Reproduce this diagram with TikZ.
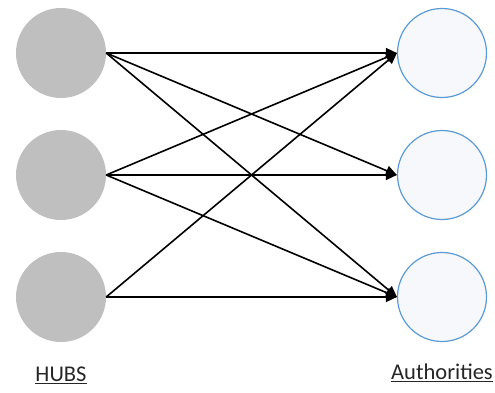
\documentclass[tikz,border=0pt]{standalone}
\usepackage{fontspec}
\setmainfont{Carlito}
\usetikzlibrary{arrows.meta}
\definecolor{hubgrey}{HTML}{BFBFBF}
\definecolor{authblue}{HTML}{5B9BD5}
\definecolor{authfill}{HTML}{F6F8FC}
\begin{document}
\begin{tikzpicture}[x=1pt,y=-1pt,
  hub/.style={circle,fill=hubgrey,draw=none,minimum size=90pt,inner sep=0pt},
  auth/.style={circle,fill=authfill,draw=authblue,line width=1.2pt,minimum size=89pt,inner sep=0pt},
  link/.style={draw=black,line width=1.6pt,-{Triangle[length=11pt,width=10pt]}},
  lbl/.style={font=\fontsize{22.5}{26}\selectfont,text=black!85}]
\useasboundingbox (0,0) rectangle (495,393);
\node[hub] (h1) at (61,53) {};
\node[hub] (h2) at (61,175) {};
\node[hub] (h3) at (61,297) {};
\node[auth] (a1) at (442,53) {};
\node[auth] (a2) at (442,175) {};
\node[auth] (a3) at (442,297) {};
\draw[link] (h1.east) -- (a1.west);
\draw[link] (h1.east) -- (a2.west);
\draw[link] (h1.east) -- (a3.west);
\draw[link] (h2.east) -- (a1.west);
\draw[link] (h2.east) -- (a2.west);
\draw[link] (h2.east) -- (a3.west);
\draw[link] (h3.east) -- (a1.west);
\draw[link] (h3.east) -- (a3.west);
\node[lbl] (hl) at (61,375) {\underline{HUBS}};
\node[lbl] (al) at (442,373) {\underline{Authorities}};
\end{tikzpicture}
\end{document}
